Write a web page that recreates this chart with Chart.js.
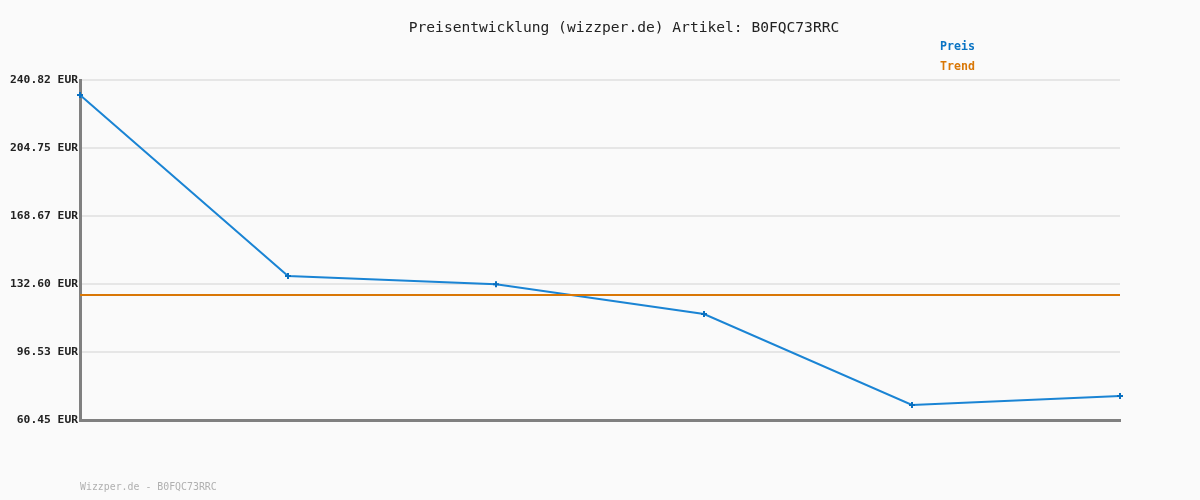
<!DOCTYPE html>
<html lang="de">
<head>
    <meta charset="UTF-8">
    <title>Preisentwicklung B0FQC73RRC</title>
    <script src="https://cdn.jsdelivr.net/npm/chart.js@4.4.1/dist/chart.umd.min.js"></script>
    <style>
        html, body { margin: 0; padding: 0; background: #fafafa; }
        #wrap { width: 1200px; height: 500px; }
    </style>
</head>
<body>
    <div id="wrap"><canvas id="priceChart" width="1200" height="500"></canvas></div>

    <script>
        // data
        const labels = ['1', '2', '3', '4', '5', '6'];
        const preis = [232.86, 136.84, 132.45, 116.68, 68.4, 73.2];
        const trend = [126.74, 126.74, 126.74, 126.74, 126.74, 126.74];
        const yTicks = [60.45, 96.53, 132.60, 168.67, 204.75, 240.82];

        const MONO = '"DejaVu Sans Mono", "Liberation Mono", monospace';

        // title, legend and footer are plain text drawn on the canvas
        const textPlugin = {
            id: 'texts',
            beforeDraw(chart) {
                const c = chart.ctx;
                c.save();
                c.fillStyle = '#fafafa';
                c.fillRect(0, 0, chart.width, chart.height);
                c.restore();
            },
            afterDraw(chart) {
                const c = chart.ctx;
                c.save();
                c.textBaseline = 'middle';
                c.textAlign = 'center';
                c.fillStyle = '#222';
                c.font = '14.6px ' + MONO;
                c.fillText('Preisentwicklung (wizzper.de) Artikel: B0FQC73RRC', 624, 28);

                c.textAlign = 'left';
                c.font = 'bold 11.6px ' + MONO;
                c.fillStyle = '#0a74c4';
                c.fillText('Preis', 940, 47);
                c.fillStyle = '#d97706';
                c.fillText('Trend', 940, 67);

                c.font = '9.9px ' + MONO;
                c.fillStyle = '#b0b0b0';
                c.fillText('Wizzper.de - B0FQC73RRC', 80, 487);
                c.restore();
            }
        };

        new Chart(document.getElementById('priceChart'), {
            type: 'line',
            data: {
                labels: labels,
                datasets: [
                    {
                        label: 'Trend',
                        data: trend,
                        borderColor: '#d97706',
                        borderWidth: 2,
                        pointRadius: 0,
                        tension: 0
                    },
                    {
                        label: 'Preis',
                        data: preis,
                        borderColor: '#1a84d4',
                        borderWidth: 2,
                        pointStyle: 'cross',
                        pointRadius: 3,
                        pointBorderWidth: 2,
                        pointBorderColor: '#0a70c0',
                        tension: 0
                    }
                ]
            },
            options: {
                responsive: false,
                animation: false,
                layout: { padding: { left: 0, right: 80, top: 80, bottom: 80 } },
                plugins: {
                    legend: { display: false },
                    title: { display: false },
                    tooltip: { enabled: false }
                },
                scales: {
                    x: {
                        offset: false,
                        grid: { display: false, drawTicks: false },
                        border: { display: true, color: '#808080', width: 3 },
                        ticks: { display: false },
                        afterFit: s => { s.height = 0; }
                    },
                    y: {
                        min: yTicks[0],
                        max: yTicks[yTicks.length - 1],
                        afterBuildTicks: s => { s.ticks = yTicks.map(v => ({ value: v })); },
                        afterFit: s => { s.width = 80; },
                        grid: { color: '#e6e6e6', lineWidth: 2, drawTicks: false },
                        border: { display: true, color: '#808080', width: 3 },
                        ticks: {
                            padding: 2,
                            color: '#222',
                            font: { family: MONO, size: 11.3, weight: 'bold' },
                            callback: v => Number(v).toFixed(2) + ' EUR'
                        }
                    }
                }
            },
            plugins: [textPlugin]
        });
    </script>
</body>
</html>
